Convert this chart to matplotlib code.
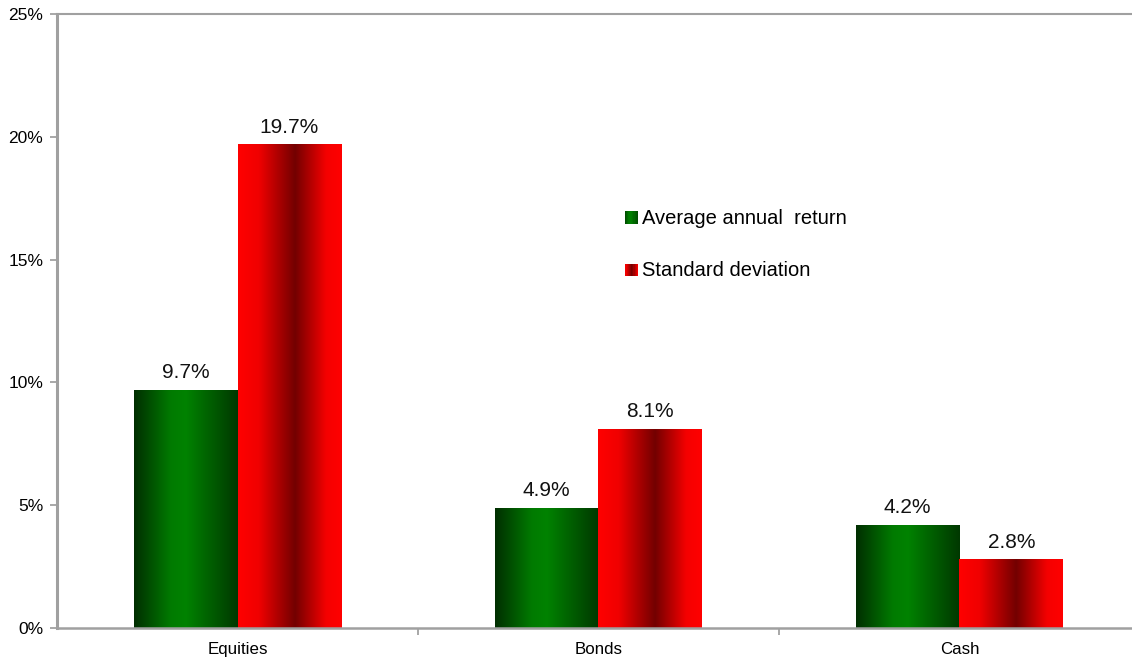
import numpy as np
import matplotlib
matplotlib.use("Agg")
import matplotlib.pyplot as plt
from matplotlib.colors import LinearSegmentedColormap
from matplotlib.legend_handler import HandlerBase
from matplotlib.patches import Rectangle

plt.rcParams['font.family'] = ['Liberation Sans', 'DejaVu Sans']

categories = ["Equities", "Bonds", "Cash"]
avg_return = [9.7, 4.9, 4.2]
std_dev = [19.7, 8.1, 2.8]
series_names = ["Average annual  return", "Standard deviation"]
y_ticks = [0, 5, 10, 15, 20, 25]

# horizontal gradients (position across bar, colour)
green_cmap = LinearSegmentedColormap.from_list(
    "g", [(0.0, "#002e00"), (0.35, "#007a00"), (0.5, "#008200"), (0.62, "#007000"), (1.0, "#003800")])
red_cmap = LinearSegmentedColormap.from_list(
    "r", [(0.0, "#ff0000"), (0.2, "#f00000"), (0.55, "#730000"), (0.85, "#f50000"), (1.0, "#ff0000")])

fig = plt.figure(figsize=(11.32, 6.61), dpi=100)
ax = fig.add_axes([0.0504, 0.0499, 0.9496, 0.9289])

x = np.arange(len(categories))
w = 0.287
grad = np.linspace(0, 1, 256).reshape(1, -1)


def gradient_bars(xs, vals, cmap):
    bars = ax.bar(xs, vals, w, color="none", edgecolor="none")
    for b in bars:
        x0, y0 = b.get_x(), b.get_y()
        im = ax.imshow(grad, cmap=cmap, aspect="auto", interpolation="bilinear",
                       extent=(x0, x0 + b.get_width(), y0, y0 + b.get_height()), zorder=2)
        im.set_clip_path(b)
        ax.annotate(f"{b.get_height():.1f}%", (x0 + b.get_width() / 2, y0 + b.get_height()),
                    xytext=(0, 5.5), textcoords="offset points", ha="center", va="bottom",
                    fontsize=15, color="#111111")
    return bars


gradient_bars(x - w / 2, avg_return, green_cmap)
gradient_bars(x + w / 2, std_dev, red_cmap)

ax.set_xlim(-0.5, 2.478)
ax.set_ylim(0, 25)
ax.set_yticks(y_ticks)
ax.set_yticklabels([f"{t}%" for t in y_ticks])
ax.set_xticks(x)
ax.set_xticklabels(categories)
ax.set_xticks(x[:-1] + 0.5, minor=True)
ax.tick_params(axis="x", which="major", length=0, pad=10, labelsize=12.2)
ax.tick_params(axis="x", which="minor", length=5, color="#999999", width=1.2)
ax.tick_params(axis="y", length=5, color="#999999", width=1.2, labelsize=12.5, pad=5)

for s in ["left", "bottom", "top"]:
    ax.spines[s].set_color("#a0a0a0")
ax.spines["left"].set_linewidth(2.2)
ax.spines["bottom"].set_linewidth(1.8)
ax.spines["top"].set_linewidth(1.5)
ax.spines["right"].set_visible(False)


class GradHandler(HandlerBase):
    def __init__(self, cmap):
        super().__init__()
        self.cmap = cmap

    def create_artists(self, legend, orig, xd, yd, width, height, fontsize, trans):
        n = 12
        side = height * 0.9
        x0 = xd + width - side
        arts = []
        for i in range(n):
            r = Rectangle((x0 + side * i / n, yd), side / n, side,
                          facecolor=self.cmap(0.15 + 0.7 * i / (n - 1)), edgecolor="none", transform=trans)
            arts.append(r)
        return arts


h1 = Rectangle((0, 0), 1, 1)
h2 = Rectangle((0, 0), 1, 1)
leg = ax.legend([h1, h2], series_names, loc="upper left", bbox_to_anchor=(0.513, 0.712),
                frameon=False, fontsize=14.5, handlelength=0.55, handletextpad=0.2,
                labelspacing=1.65,
                handler_map={h1: GradHandler(green_cmap), h2: GradHandler(red_cmap)})

fig.savefig("out.png", dpi=100)
